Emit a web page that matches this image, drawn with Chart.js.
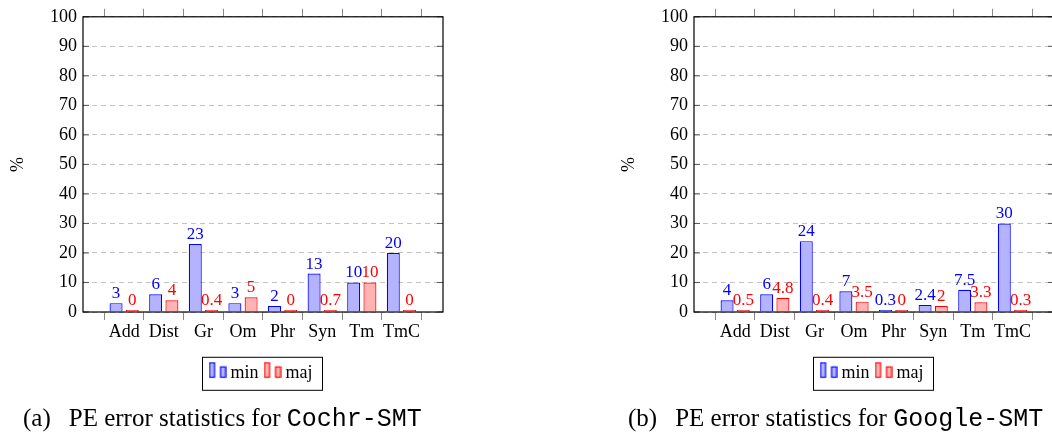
<!DOCTYPE html>
<html><head><meta charset="utf-8">
<script src="https://cdn.jsdelivr.net/npm/chart.js@4/dist/chart.umd.min.js"></script>
<style>
html,body{margin:0;padding:0;width:1052px;height:432px;overflow:hidden;background:#fff;}
#c1{position:absolute;left:0;top:0;}
#c2{position:absolute;left:611px;top:0;}
.cap{position:absolute;top:405px;font-family:'Liberation Serif';font-size:25px;line-height:25px;white-space:nowrap;color:#000;}
.cap .tt{font-family:'Liberation Mono';}
.cap .lab{display:inline-block;margin-right:18px;}
</style></head><body>
<canvas id="c1" width="526" height="432"></canvas>
<canvas id="c2" width="526" height="432"></canvas>
<div class="cap" style="left:23px"><span class="lab">(a)</span>PE error statistics for <span class="tt">Cochr-SMT</span></div>
<div class="cap" style="left:628px"><span class="lab">(b)</span>PE error statistics for <span class="tt">Google-SMT</span></div>
<script>
const categories = ['Add','Dist','Gr','Om','Phr','Syn','Tm','TmC'];
const seriesNames = ['min','maj'];
const cochrMin = [3, 6, 23, 3, 2, 13, 10, 20];
const cochrMaj = [0, 4, 0.4, 5, 0, 0.7, 10, 0];
const googleMin = [4, 6, 24, 7, 0.3, 2.4, 7.5, 30];
const googleMaj = [0.5, 4.8, 0.4, 3.5, 0, 2, 3.3, 0.3];
const yMin = 0, yMax = 100, yStep = 10;
const yTitle = '%';

const FONT = 'Liberation Serif';
const BLUE = '#0000ff', BLUE_FILL = '#b3b3ff';
const RED = '#ff0000', RED_FILL = '#ffb3b3';

function makeIcon(stroke, fill) {
  const c = document.createElement('canvas');
  c.width = 18; c.height = 24;
  const g = c.getContext('2d');
  g.fillStyle = fill; g.strokeStyle = stroke; g.lineWidth = 1.2;
  g.fillRect(1, 1, 5, 14.5); g.strokeRect(1, 1, 5, 14.5);
  g.fillRect(12, 5.2, 5, 10.3); g.strokeRect(12, 5.2, 5, 10.3);
  return c;
}
const icons = [makeIcon(BLUE, BLUE_FILL), makeIcon(RED, RED_FILL)];

const valueLabels = {
  id: 'valueLabels',
  afterDatasetsDraw(chart) {
    const ctx = chart.ctx;
    ctx.save();
    ctx.font = '17px "' + FONT + '"';
    ctx.textAlign = 'center';
    ctx.textBaseline = 'alphabetic';
    chart.data.datasets.forEach((ds, di) => {
      const meta = chart.getDatasetMeta(di);
      ctx.fillStyle = ds.borderColor;
      meta.data.forEach((el, i) => {
        const top = Math.min(el.y, el.base);
        ctx.fillText(String(ds.data[i].y), el.x, top - 5);
      });
    });
    ctx.restore();
  }
};

const frame = {
  id: 'frame',
  afterDraw(chart) {
    const ctx = chart.ctx, a = chart.chartArea, ys = chart.scales.y;
    ctx.save();
    ctx.strokeStyle = '#555';
    ctx.lineWidth = 1;
    ys.ticks.forEach(t => {
      const p = ys.getPixelForValue(t.value);
      ctx.beginPath();
      ctx.moveTo(a.left, p); ctx.lineTo(a.left + 6, p);
      ctx.moveTo(a.right - 6, p); ctx.lineTo(a.right, p);
      ctx.stroke();
    });
    ctx.strokeStyle = '#000';
    ctx.lineWidth = 1.2;
    ctx.strokeRect(a.left, a.top, a.right - a.left, a.bottom - a.top);
    // legend frame
    const hb = chart.legend && chart.legend.legendHitBoxes;
    if (hb && hb.length) {
      const l = Math.min(...hb.map(h => h.left)) - 11;
      const r = Math.max(...hb.map(h => h.left + h.width)) + 10;
      const t = hb[0].top - 7.4;
      const b = hb[0].top + 25.6;
      ctx.lineWidth = 1;
      ctx.strokeStyle = '#000';
      ctx.strokeRect(l, t, r - l, b - t);
    }
    ctx.restore();
  }
};

function catTicks(s) { s.ticks = categories.map((c, i) => ({ value: i })); }

function build(id, minVals, majVals) {
  const font = { family: FONT, size: 18 };
  return new Chart(document.getElementById(id), {
    type: 'bar',
    data: {
      datasets: [
        { label: seriesNames[0], data: categories.map((c, i) => ({ x: i, y: minVals[i] })),
          backgroundColor: BLUE_FILL, borderColor: BLUE, borderWidth: 1.2,
          categoryPercentage: 0.82, barPercentage: 0.8, minBarLength: 2 },
        { label: seriesNames[1], data: categories.map((c, i) => ({ x: i, y: majVals[i] })),
          backgroundColor: RED_FILL, borderColor: RED, borderWidth: 1.2,
          categoryPercentage: 0.82, barPercentage: 0.8, minBarLength: 2 }
      ]
    },
    options: {
      responsive: false, animation: false, devicePixelRatio: 1, events: [],
      layout: { padding: { top: 0, left: 0, right: 83, bottom: 39.3 } },
      scales: {
        x: { type: 'linear', position: 'bottom', min: -1.04, max: 8.05, offset: false,
          afterBuildTicks: catTicks, afterFit: s => { s.height = 42.7; },
          ticks: { autoSkip: false, maxRotation: 0, minRotation: 0, padding: 1, font, color: '#000',
            callback: v => categories[v] !== undefined ? categories[v] : '' },
          grid: { drawOnChartArea: false, drawTicks: true, tickLength: 8, tickColor: '#888', tickWidth: 1 },
          border: { display: false } },
        x2: { type: 'linear', position: 'top', min: -1.04, max: 8.05, offset: false,
          afterBuildTicks: catTicks, afterFit: s => { s.height = 13.5; },
          ticks: { display: false },
          grid: { drawOnChartArea: false, drawTicks: true, tickLength: 8, tickColor: '#888', tickWidth: 1 },
          border: { display: false } },
        y: { type: 'linear', position: 'left', min: yMin, max: yMax,
          afterFit: s => { s.width = 83; },
          ticks: { stepSize: yStep, padding: 6, font, color: '#000' },
          grid: { color: '#c4c4c4', lineWidth: 1, drawTicks: false },
          border: { display: false, dash: [5, 4] },
          title: { display: true, text: yTitle, font, color: '#000', padding: { top: 7, bottom: 0 } } }
      },
      plugins: {
        tooltip: { enabled: false },
        legend: { position: 'bottom', fullSize: false,
          labels: { usePointStyle: true, boxWidth: 8, padding: 10, font, color: '#000',
            generateLabels(chart) {
              const items = Chart.defaults.plugins.legend.labels.generateLabels(chart);
              items.forEach((it, i) => { it.pointStyle = icons[i]; it.fontColor = '#000'; });
              return items;
            } } }
      }
    },
    plugins: [valueLabels, frame]
  });
}
build('c1', cochrMin, cochrMaj);
build('c2', googleMin, googleMaj);
</script>
</body></html>
